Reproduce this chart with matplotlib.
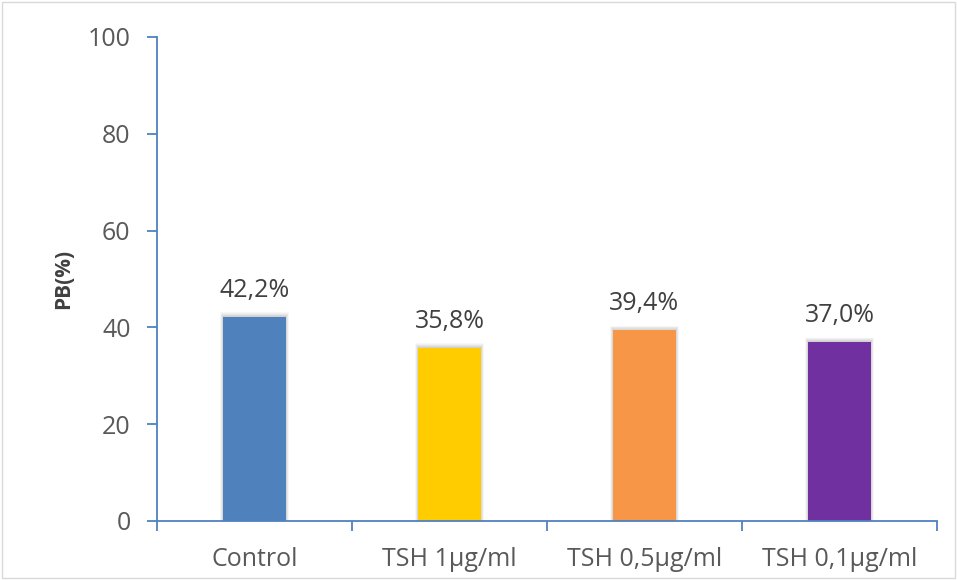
import matplotlib.pyplot as plt
from matplotlib.patches import Rectangle

# -- data
categories = ['Control', 'TSH 1µg/ml', 'TSH 0,5µg/ml', 'TSH 0,1µg/ml']
values = [42.2, 35.8, 39.4, 37.0]
labels = ['42,2%', '35,8%', '39,4%', '37,0%']
colors = ['#4F81BD', '#FFCC00', '#F79646', '#7030A0']

plt.rcParams['font.family'] = ['Open Sans', 'DejaVu Sans']
axis_col = '#4F81BD'
text_col = '#595959'

fig = plt.figure(figsize=(9.57, 5.80), dpi=100)
ax = fig.add_axes([157/957, 1-521/580, 780/957, 484/580])

x = range(len(categories))
width = 0.323

# -- soft shadow behind the bars
for i, v in zip(x, values):
    for k in range(1, 7):
        ax.add_patch(Rectangle((i - width/2 - 0.0025*k, 0), width + 0.005*k, v + 0.15*k,
                               facecolor='black', alpha=0.03, edgecolor='none', zorder=1))

ax.bar(x, values, width=width, color=colors, zorder=2)

for i, v, t in zip(x, values, labels):
    ax.text(i, v + 4.1, t, ha='center', va='baseline', fontsize=18, color='#404040')

ax.set_xlim(-0.5, 3.5)
ax.set_ylim(0, 100)
ax.set_yticks(range(0, 101, 20))
ax.set_xticks([-0.5, 0.5, 1.5, 2.5, 3.5])
ax.set_xticklabels([])
ax.set_xticks(list(x), minor=True)
ax.set_xticklabels(categories, minor=True)
ax.tick_params(axis='x', which='minor', length=0, pad=19, labelsize=18, labelcolor=text_col)
ax.tick_params(axis='x', which='major', length=7, color=axis_col, width=1.3)
ax.tick_params(axis='y', length=7, color=axis_col, width=1.3, labelsize=18,
               labelcolor=text_col, pad=12)

for s in ['top', 'right']:
    ax.spines[s].set_visible(False)
for s in ['left', 'bottom']:
    ax.spines[s].set_color(axis_col)
    ax.spines[s].set_linewidth(1.3)

ax.set_ylabel('PB(%)', fontsize=15, fontweight='bold', color='#404040', labelpad=10)

fig.patches.append(Rectangle((0.002, 0.003), 0.996, 0.994, transform=fig.transFigure,
                             fill=False, edgecolor='#D9D9D9', linewidth=1))

plt.savefig('out.png', dpi=100)
